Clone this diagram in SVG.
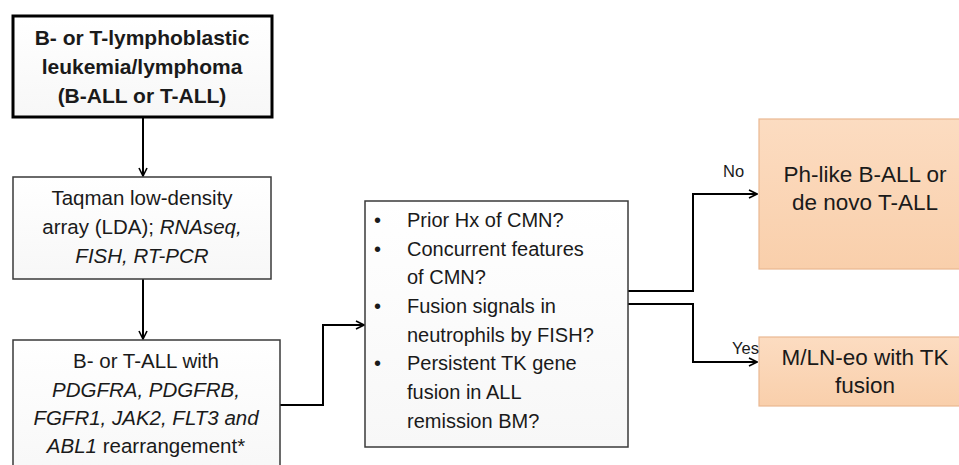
<svg xmlns="http://www.w3.org/2000/svg" width="959" height="465" viewBox="0 0 959 465">
<style>
  .box { fill: url(#wg); stroke: #3a3a3a; stroke-width: 1.5; }
  .box1 { fill: url(#wg); stroke: #000000; stroke-width: 3; }
  .peach { fill: url(#pg); stroke: #e9b892; stroke-width: 1.2; }
  .t { font-family: "Liberation Sans", Arial, sans-serif; font-size: 20.5px; fill: #1a1a1a; text-anchor: middle; }
  .tb { font-weight: bold; font-size: 21px; }
  .tl { font-family: "Liberation Sans", Arial, sans-serif; font-size: 20px; fill: #1a1a1a; }
  .big { font-size: 22.5px; }
  .lab { font-family: "Liberation Sans", Arial, sans-serif; font-size: 16.5px; fill: #1a1a1a; }
  .conn { fill: none; stroke: #000; stroke-width: 2; }
</style>
<defs>
  <linearGradient id="pg" x1="0" y1="0" x2="0" y2="1">
    <stop offset="0" stop-color="#fcdcc1"/>
    <stop offset="1" stop-color="#f9cfab"/>
  </linearGradient>
  <linearGradient id="wg" x1="0" y1="0" x2="0" y2="1">
    <stop offset="0" stop-color="#ffffff"/>
    <stop offset="1" stop-color="#f7f7f7"/>
  </linearGradient>
  <marker id="ah" markerWidth="10" markerHeight="10" refX="9" refY="5" orient="auto" markerUnits="userSpaceOnUse">
    <path d="M1,1 L9,5 L1,9" fill="none" stroke="#000" stroke-width="1.6"/>
  </marker>
</defs>
<rect width="959" height="465" fill="#ffffff"/>

<g id="connectors">
  <path class="conn" d="M143,117 V176" marker-end="url(#ah)"/>
  <path class="conn" d="M143,279 V339" marker-end="url(#ah)"/>
  <path class="conn" d="M280,405 H323 V325 H364" marker-end="url(#ah)"/>
  <path class="conn" d="M628,291 H693 V194 H757" marker-end="url(#ah)"/>
  <path class="conn" d="M628,304 H693 V362 H757" marker-end="url(#ah)"/>
</g>

<g id="node-all">
  <rect class="box1" x="13" y="16" width="259" height="101"/>
  <text class="t tb" x="142" y="45">B- or T-lymphoblastic</text>
  <text class="t tb" x="142" y="74">leukemia/lymphoma</text>
  <text class="t tb" x="142" y="103">(B-ALL or T-ALL)</text>
</g>

<g id="node-lda">
  <rect class="box" x="13" y="177" width="258" height="102"/>
  <text class="t" x="142" y="205">Taqman low-density</text>
  <text class="t" x="142" y="234">array (LDA); <tspan font-style="italic">RNAseq,</tspan></text>
  <text class="t" x="142" y="263" font-style="italic">FISH, RT-PCR</text>
</g>

<g id="node-rearr">
  <rect class="box" x="13" y="340" width="267" height="140"/>
  <text class="t" x="146" y="368">B- or T-ALL with</text>
  <text class="t" x="146" y="397" font-style="italic">PDGFRA, PDGFRB,</text>
  <text class="t" x="146" y="425" font-style="italic">FGFR1, JAK2, FLT3 and</text>
  <text class="t" x="146" y="453"><tspan font-style="italic">ABL1</tspan> rearrangement*</text>
</g>

<g id="node-questions">
  <rect class="box" x="365" y="201" width="263" height="246"/>
  <g class="tl">
    <text x="374" y="227">•</text><text x="407" y="227">Prior Hx of CMN?</text>
    <text x="374" y="256">•</text><text x="407" y="256">Concurrent features</text>
    <text x="407" y="284">of CMN?</text>
    <text x="374" y="313">•</text><text x="407" y="313">Fusion signals in</text>
    <text x="407" y="342">neutrophils by FISH?</text>
    <text x="374" y="370">•</text><text x="407" y="370">Persistent TK gene</text>
    <text x="407" y="399">fusion in ALL</text>
    <text x="407" y="428">remission BM?</text>
  </g>
</g>

<g id="node-phlike">
  <rect class="peach" x="759" y="119" width="215" height="150"/>
  <text class="t big" x="865" y="182">Ph-like B-ALL or</text>
  <text class="t big" x="865" y="210">de novo T-ALL</text>
</g>

<g id="node-mln">
  <rect class="peach" x="759" y="337" width="215" height="69"/>
  <text class="t big" x="865" y="365">M/LN-eo with TK</text>
  <text class="t big" x="865" y="393">fusion</text>
</g>

<g id="labels">
  <text class="lab" x="723" y="177">No</text>
  <text class="lab" x="732" y="354">Yes</text>
</g>
</svg>
